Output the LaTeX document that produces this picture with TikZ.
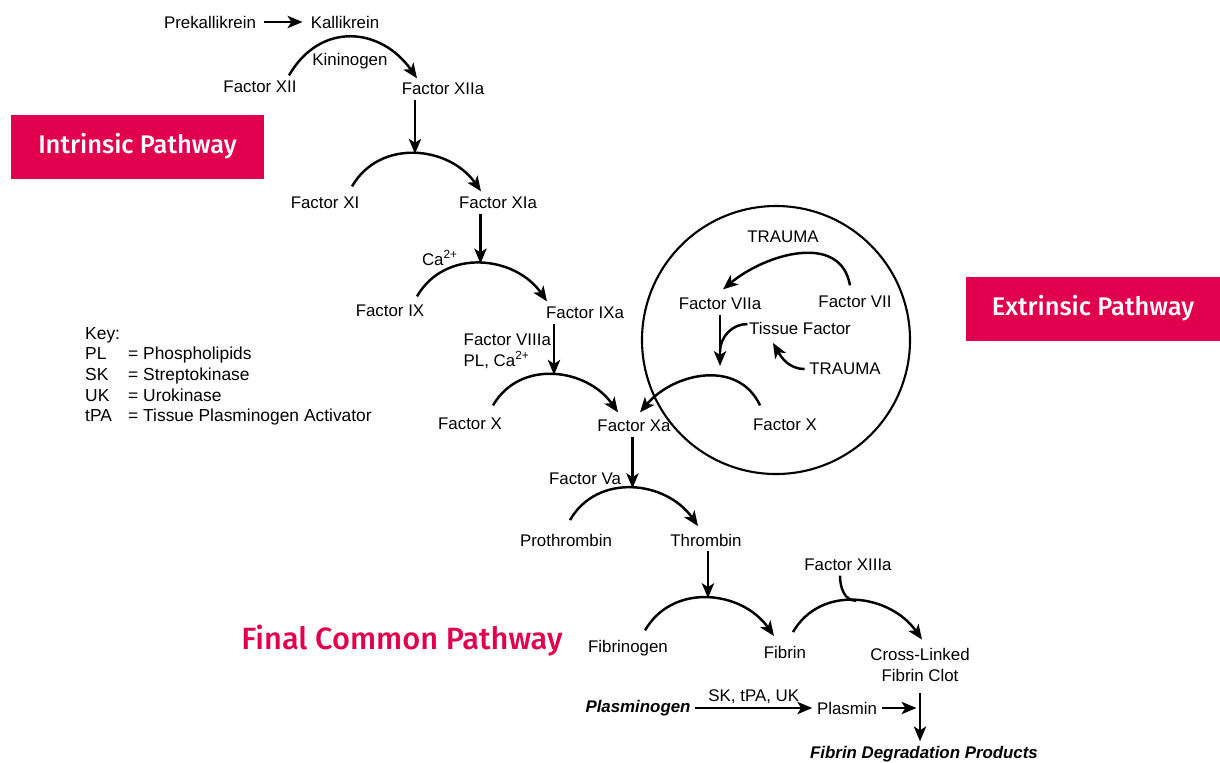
\documentclass[tikz,border=0pt]{standalone}
\usepackage{fontspec}
\setmainfont{Liberation Sans}
\newfontfamily\pathfont{Fira Sans Medium}
\usepackage{xcolor}
\usepackage{tikz}
\usetikzlibrary{calc}
\usetikzlibrary{arrows.meta, positioning}
\definecolor{crimson}{RGB}{224,0,77}
\newcommand{\lblfont}{\fontsize{9.6}{11.9}\selectfont}

\begin{document}
\begin{tikzpicture}[x=0.02cm,y=0.02cm,line width=1.4pt,
                    >={Stealth[length=8.5pt,width=7pt,inset=2.2pt]},
                    every node/.style={inner sep=2pt,font=\lblfont},
                    conv/.style={out=60,in=125,looseness=1.1},
                    back conv/.style={out=115,in=50,looseness=1.1},
                    pathway box/.style={fill=crimson,text=white,font=\pathfont\fontsize{14.5}{17}\selectfont,
                                        minimum width=5.08cm,minimum height=1.28cm}]

  \useasboundingbox (0,0) rectangle (1220,-762);

  \node[pathway box] (intr) at (137.5,-146.5) {Intrinsic Pathway};
  \node[pathway box] (extr) at (1093,-308.5) {Extrinsic Pathway};
  \node[text=crimson,font=\pathfont\fontsize{17.5}{20}\selectfont] (final) at (402,-641) {Final Common Pathway};

  \node (prekal) at (210,-22) {Prekallikrein};
  \node (kal) at (345,-22) {Kallikrein};
  \node (kinin) at (350,-61) {Kininogen};
  \node (fxii) at (260,-87) {Factor XII};
  \node (fxiia) at (443,-89) {Factor XIIa};
  \node (fxi) at (325,-203) {Factor XI};
  \node (fxia) at (498,-203) {Factor XIa};
  \node (ca) at (440,-258) {Ca\textsuperscript{2+}};
  \node (fix) at (390,-311) {Factor IX};
  \node (fixa) at (585,-313) {Factor IXa};
  \node[anchor=west,align=left] (fviiia) at (459,-351) {Factor VIIIa\\PL, Ca\textsuperscript{2+}};
  \node (fx) at (470,-424) {Factor X};
  \node (fxa) at (634,-426) {Factor Xa};

  \draw[line width=1.2pt] (776,-340) circle[radius=134];
  \node (trauma) at (783,-237) {TRAUMA};
  \node (fviia) at (720,-304) {Factor VIIa};
  \node (fvii) at (855,-302) {Factor VII};
  \node (tf) at (800,-328) {Tissue Factor};
  \node (trauma2) at (845,-369) {TRAUMA};
  \node (fxe) at (785,-425) {Factor X};
  \coordinate (viiadown) at (720,-366);
  \coordinate (tfjoin) at (720,-352);

  \node (fva) at (585,-479) {Factor Va};
  \node (prothr) at (566,-540) {Prothrombin};
  \node (thr) at (706,-540) {Thrombin};
  \node (fxiiia) at (848,-565) {Factor XIIIa};
  \node (fibgen) at (628,-648) {Fibrinogen};
  \node (fibrin) at (785,-652) {Fibrin};
  \node[align=center] (clot) at (920,-665) {Cross-Linked\\Fibrin Clot};
  \node[font=\lblfont\bfseries\itshape] (plgen) at (638,-708) {Plasminogen};
  \node (plasmin) at (847,-708) {Plasmin};
  \node[font=\lblfont\bfseries\itshape] (fdp) at (924,-754) {Fibrin Degradation Products};

  \node[anchor=base west,font=\fontsize{9.9}{11.8}\selectfont] (key) at (80.5,-339) {\begin{tabular}[t]{@{}p{0.86cm}@{}l@{}}
    Key: & \\
    PL & = Phospholipids \\
    SK & = Streptokinase \\
    UK & = Urokinase \\
    tPA & = Tissue Plasminogen Activator
  \end{tabular}};

  \draw[->] ($(fxii.north)+(29,1)$) to[conv,looseness=1.25] ($(fxiia.north)+(-26,0)$);
  \draw[->] ($(fxi.north)+(27,6)$) to[conv] coordinate[pos=.5] (pB) ($(fxia.north)+(-17,1)$);
  \draw[->] ($(fix.north)+(27,4)$) to[conv] coordinate[pos=.5] (pC) ($(fixa.north)+(-38,1)$);
  \draw[->] ($(fx.north)+(23,8)$) to[conv] coordinate[pos=.5] (pD) ($(fxa.north)+(-16,3)$);
  \draw[->] ($(fxe.north)+(-25,9)$) to[back conv] ($(fxa.north)+(6,3)$);
  \draw[->] ($(fvii.north)+(-5,6)$) to[out=100,in=40,looseness=1.1] ($(fviia.north)+(3,4)$);
  \draw[->] ($(prothr.north)+(4,9)$) to[conv] coordinate[pos=.5] (pG) ($(thr.north)+(-8,3)$);
  \draw[->] ($(fibgen.north)+(17,5)$) to[conv] coordinate[pos=.5] (pH) ($(fibrin.north)+(-11,5)$);
  \draw[->] ($(fibrin.north)+(8,9)$) to[conv] coordinate[pos=.5] (pI) ($(clot.north)+(2,4)$);

  \draw[->] (pB |- fxiia.south) -- (pB);
  \draw[->] (pC |- fxia.south) -- (pC);
  \draw[->] (pD |- fixa.south) -- (pD);
  \draw[->] (pG |- fxa.south) -- (pG);
  \draw[->] (pH |- thr.south) -- (pH);
  \draw ($(fxiiia.south)+(-8,0)$) to[out=-90,in=180] (pI);

  \draw[->] (fviia) -- (viiadown);
  \draw ($(tf.west)+(3,4)$) to[out=180,in=90] (tfjoin);
  \draw[->] (trauma2.west) to[out=180,in=-60] ($(tf.south)+(-27,-4)$);

  \path[->] (prekal) edge[shorten <=2pt,shorten >=2pt] (kal)
    (plgen) edge node[above] {SK, tPA, UK} (plasmin)
    (plasmin) edge[shorten >=2pt] (plasmin -| clot.south)
    (clot.south) edge[shorten <=4pt] (clot.south |- fdp.north);
\end{tikzpicture}
\end{document}
